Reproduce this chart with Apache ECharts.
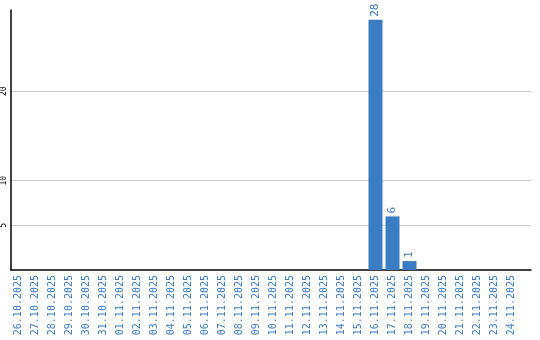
<!DOCTYPE html>
<html><head><meta charset="utf-8">
<script src="https://cdn.jsdelivr.net/npm/echarts@6/dist/echarts.min.js"></script>
<style>html,body{margin:0;padding:0;background:#fff}#c{width:540px;height:340px}</style>
</head><body><div id="c"></div>
<script>
const categories = ['26.10.2025','27.10.2025','28.10.2025','29.10.2025','30.10.2025','31.10.2025',
'01.11.2025','02.11.2025','03.11.2025','04.11.2025','05.11.2025','06.11.2025','07.11.2025','08.11.2025',
'09.11.2025','10.11.2025','11.11.2025','12.11.2025','13.11.2025','14.11.2025','15.11.2025','16.11.2025',
'17.11.2025','18.11.2025','19.11.2025','20.11.2025','21.11.2025','22.11.2025','23.11.2025','24.11.2025'];
const values = [0,0,0,0,0,0, 0,0,0,0,0,0,0,0, 0,0,0,0,0,0,0,28, 6,1,0,0,0,0,0,0];
const yTicks = [5,10,20];
const yMax = 29.1;

const blue = '#3b7dc3';
const chart = echarts.init(document.getElementById('c'), null, {renderer:'canvas'});
chart.setOption({
  animation:false,
  grid:[
    {left:10, top:10, right:9, bottom:70},
    {left:10, top:10, width:510, bottom:70}
  ],
  xAxis:[
    {gridIndex:0, type:'value', min:0, max:1, show:true,
     axisLine:{show:true, lineStyle:{color:'#000', width:1.5}},
     axisTick:{show:false}, axisLabel:{show:false}, splitLine:{show:false}},
    {gridIndex:1, type:'category', data:categories,
     axisLine:{show:false}, axisTick:{show:false},
     axisLabel:{interval:0, rotate:90, color:blue, fontFamily:'DejaVu Sans Mono', fontSize:10, margin:5}}
  ],
  yAxis:[
    {gridIndex:0, type:'value', min:0, max:yMax,
     axisLine:{show:true, lineStyle:{color:'#000', width:1.5}},
     axisTick:{show:false, customValues:yTicks},
     axisLabel:{customValues:yTicks, rotate:90, color:'#000', fontFamily:'DejaVu Sans Mono', fontSize:8, margin:3},
     splitLine:{show:true, lineStyle:{color:'#c8c8c8', width:1}}},
    {gridIndex:1, type:'value', min:0, max:yMax, show:false, splitLine:{show:false}}
  ],
  series:[{
    type:'bar', xAxisIndex:1, yAxisIndex:1, data:values, barWidth:14,
    itemStyle:{color:blue},
    label:{show:true, position:'top', rotate:90, align:'left', verticalAlign:'middle', distance:3,
      color:blue, fontFamily:'DejaVu Sans Mono', fontSize:11,
      formatter:p=>p.value?String(p.value):''}
  }]
});
</script></body></html>
